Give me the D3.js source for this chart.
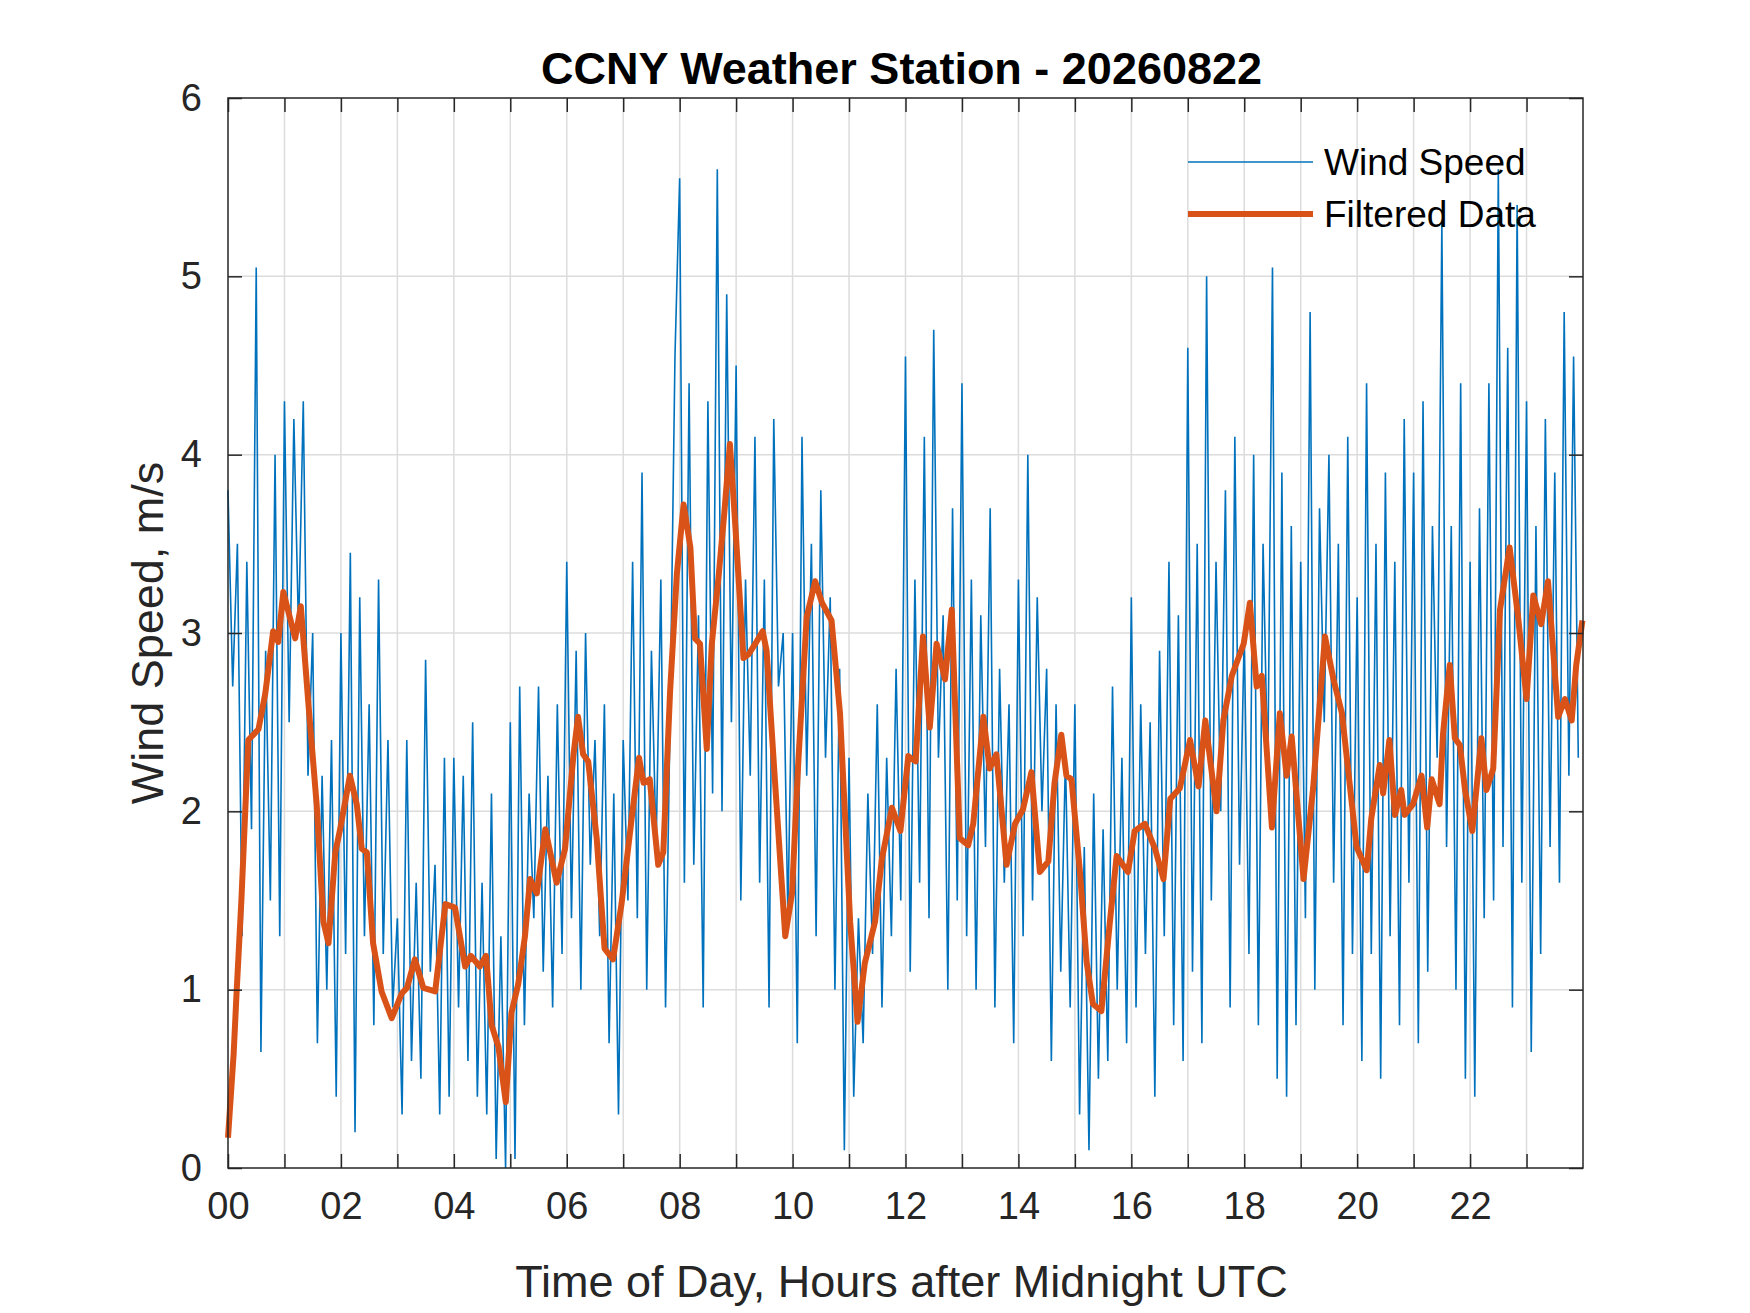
<!DOCTYPE html>
<html>
<head>
<meta charset="utf-8">
<script src="https://cdn.jsdelivr.net/npm/d3@7"></script>
<style>
  body { margin: 0; background: #fff; }
  text { font-family: "Liberation Sans", Arial, sans-serif; }
</style>
</head>
<body>
<div id="vis"></div>
<script>
// wind speed, one sample every 5 minutes (m/s)
const windSpeed = [
  3.8,2.7,3.5,1.3,3.4,1.9,5.05,0.65,2.9,1.5,4.0,1.3,
  4.3,2.5,4.2,3.0,4.3,2.2,3.0,0.7,2.2,1.0,2.4,0.4,
  3.0,1.2,3.45,0.2,3.2,1.3,2.6,0.8,3.3,1.2,2.4,0.9,
  1.4,0.3,2.4,0.6,1.6,0.5,2.85,1.1,1.7,0.3,2.3,0.4,
  2.3,0.9,2.2,0.6,2.5,0.4,1.6,0.3,2.1,0.05,1.3,0.0,
  2.5,0.05,2.7,0.8,2.1,1.4,2.7,1.1,2.2,0.9,2.6,1.2,
  3.4,1.4,2.9,1.0,3.0,1.7,2.4,1.3,2.6,0.7,2.1,0.3,
  2.4,1.5,3.4,1.4,3.9,1.0,2.9,1.8,3.3,0.9,2.6,4.55,
  5.55,1.6,4.4,1.7,3.1,0.9,4.3,2.1,5.6,2.0,4.9,2.5,
  4.5,1.5,3.3,2.2,4.1,1.6,3.3,0.9,4.2,2.7,3.0,1.4,
  3.0,0.7,4.1,2.2,3.5,1.3,3.8,2.3,3.2,1.0,2.8,0.1,
  2.3,0.4,1.4,0.7,2.1,1.2,2.6,0.9,2.3,1.3,2.8,1.5,
  4.55,1.1,3.3,1.6,4.1,1.4,4.7,2.3,3.1,1.0,3.7,1.5,
  4.4,1.3,3.3,1.0,3.1,1.8,3.7,0.9,2.8,1.6,2.6,0.7,
  3.3,1.3,4.0,1.5,3.2,2.0,2.8,0.6,2.6,1.1,2.3,0.9,
  2.6,0.3,1.8,0.1,2.1,0.5,1.9,0.6,2.7,1.0,2.3,0.7,
  3.2,0.9,2.6,1.2,2.5,0.4,2.9,1.3,3.4,0.8,3.1,0.6,
  4.6,1.1,3.5,0.7,5.0,1.5,3.4,2.0,3.8,0.9,4.1,1.7,
  3.0,1.2,4.0,0.8,3.5,2.2,5.05,0.5,3.9,0.4,3.6,0.8,
  3.4,1.4,4.8,1.0,3.7,2.5,4.0,1.6,3.5,0.8,4.1,1.2,
  3.2,0.6,4.4,1.2,3.5,0.5,3.9,1.3,3.4,0.8,4.2,1.6,
  3.9,0.7,4.3,1.1,3.6,2.3,5.3,1.8,3.6,1.0,4.4,0.5,
  3.4,0.4,3.7,1.4,4.4,1.5,5.6,1.8,4.6,0.9,5.4,1.6,
  4.3,0.65,3.6,1.2,4.2,1.8,3.9,1.6,4.8,2.2,4.55,2.3
];

// filtered data, hours after midnight and value (m/s)
const filtHours = [
  0,0.1,0.15,0.24,0.36,0.54,0.66,0.8,0.89,0.98,1.19,1.29,1.42,1.57,1.69,1.78,1.9,1.98,2.16,2.28,2.37,2.46,2.57,2.72,2.9,3.08,3.17,3.31,3.46,3.67,3.85,4.02,
  4.2,4.3,4.46,4.57,4.67,4.79,4.92,5.02,5.14,5.26,5.35,5.47,5.62,5.82,5.97,6.12,6.2,6.29,6.38,6.53,6.67,6.82,6.97,7.15,7.28,7.36,7.47,7.62,7.71,7.83,7.95,8.07,
  8.19,8.27,8.36,8.48,8.57,8.69,8.79,8.89,8.98,9.13,9.22,9.34,9.47,9.54,9.69,9.87,9.99,10.1,10.25,10.4,10.52,10.69,10.84,11.02,11.15,11.28,11.46,11.58,11.76,11.91,
  12.05,12.18,12.31,12.43,12.55,12.7,12.82,12.96,13.11,13.2,13.38,13.49,13.61,13.79,13.94,14.08,14.23,14.38,14.53,14.64,14.76,14.85,14.94,15.09,15.21,15.32,15.47,15.62,15.74,15.94,
  16.06,16.24,16.42,16.57,16.69,16.86,17.04,17.19,17.31,17.51,17.63,17.78,17.99,18.1,18.22,18.31,18.49,18.63,18.75,18.84,19.05,19.22,19.43,19.58,19.73,19.99,
  20.17,20.25,20.4,20.46,20.57,20.67,20.78,20.84,20.99,21.14,21.24,21.32,21.46,21.52,21.64,21.73,21.82,21.91,22.04,22.2,22.29,22.41,22.53,22.7,22.85,23.0,23.12,23.26,23.38,23.56,23.68,23.8,23.88,23.99
];
const filtValues = [
  0.17,0.64,0.97,1.52,2.4,2.46,2.66,3.01,2.95,3.23,2.97,3.15,2.62,2.04,1.38,1.26,1.77,1.89,2.2,2.04,1.79,1.77,1.26,0.99,0.84,0.98,1.01,1.17,1.01,0.99,1.48,1.46,
  1.13,1.19,1.13,1.19,0.8,0.68,0.37,0.87,1.03,1.3,1.62,1.54,1.9,1.6,1.79,2.32,2.53,2.32,2.28,1.85,1.23,1.17,1.48,1.96,2.3,2.16,2.18,1.7,1.77,2.67,3.33,3.72,
  3.48,2.97,2.94,2.35,2.94,3.32,3.67,4.06,3.63,2.86,2.88,2.94,3.01,2.9,2.16,1.3,1.54,2.27,3.09,3.29,3.17,3.07,2.55,1.38,0.82,1.15,1.38,1.73,2.02,1.89,
  2.31,2.28,2.98,2.47,2.94,2.74,3.13,1.85,1.81,1.93,2.53,2.24,2.32,1.7,1.93,2.01,2.22,1.66,1.72,2.16,2.43,2.2,2.18,1.66,1.15,0.92,0.88,1.38,1.75,1.66,
  1.89,1.93,1.79,1.62,2.07,2.13,2.4,2.14,2.51,2.0,2.51,2.76,2.94,3.17,2.7,2.76,1.91,2.55,2.2,2.42,1.62,2.13,2.98,2.74,2.55,1.8,
  1.67,1.96,2.26,2.1,2.4,1.98,2.12,1.98,2.04,2.2,1.91,2.18,2.04,2.43,2.82,2.41,2.37,2.12,1.89,2.41,2.12,2.24,3.13,3.48,3.09,2.63,3.21,3.05,3.29,2.53,2.63,2.51,2.82,3.07
];

const yTicks = [0, 1, 2, 3, 4, 5, 6];
const xTicks = [0, 2, 4, 6, 8, 10, 12, 14, 16, 18, 20, 22];
const seriesNames = ["Wind Speed", "Filtered Data"];

const W = 1750, H = 1313;
const MARGINS = { left: 228, right: 167, top: 98, bottom: 145 };
const VIS_W = W - MARGINS.left - MARGINS.right;
const VIS_H = H - MARGINS.top - MARGINS.bottom;

const svg = d3.select("#vis").append("svg")
  .attr("width", W).attr("height", H);

const X = d3.scaleLinear().domain([0, 24]).range([MARGINS.left, MARGINS.left + VIS_W]);
const Y = d3.scaleLinear().domain([0, 6]).range([MARGINS.top + VIS_H, MARGINS.top]);

// grid
const grid = svg.append("g").attr("stroke", "#dcdcdc").attr("stroke-width", 1.5);
grid.selectAll(".gx").data(d3.range(1, 24)).enter().append("line")
  .attr("x1", d => X(d)).attr("x2", d => X(d))
  .attr("y1", Y(0)).attr("y2", Y(6));
grid.selectAll(".gy").data(yTicks.slice(1, -1)).enter().append("line")
  .attr("x1", X(0)).attr("x2", X(24))
  .attr("y1", d => Y(d)).attr("y2", d => Y(d));

// lines
svg.append("path")
  .datum(windSpeed)
  .attr("fill", "none").attr("stroke", "#0072BD").attr("stroke-width", 1.6)
  .attr("d", d3.line().x((d, i) => X(i / 12)).y(d => Y(d)));

svg.append("path")
  .datum(filtHours.map((h, i) => [h, filtValues[i]]))
  .attr("fill", "none").attr("stroke", "#D95319").attr("stroke-width", 6)
  .attr("stroke-linejoin", "round")
  .attr("d", d3.line().x(d => X(d[0])).y(d => Y(d[1])));

// axes
const tickLen = 14;
const fmt = d => String(d).padStart(2, "0");
svg.append("g").attr("transform", "translate(0," + Y(0) + ")")
  .call(d3.axisBottom(X).tickValues(d3.range(0, 24)).tickSize(-tickLen).tickPadding(24)
    .tickFormat(d => xTicks.includes(d) ? fmt(d) : ""))
  .call(g => g.select(".domain").remove());
svg.append("g").attr("transform", "translate(0," + Y(6) + ")")
  .call(d3.axisTop(X).tickValues(d3.range(0, 24)).tickSize(-tickLen).tickFormat(""))
  .call(g => g.select(".domain").remove());
svg.append("g").attr("transform", "translate(" + X(0) + ",0)")
  .call(d3.axisLeft(Y).tickValues(yTicks).tickSize(-tickLen).tickPadding(26).tickFormat(d3.format("d")))
  .call(g => g.select(".domain").remove());
svg.append("g").attr("transform", "translate(" + X(24) + ",0)")
  .call(d3.axisRight(Y).tickValues(yTicks).tickSize(-tickLen).tickFormat(""))
  .call(g => g.select(".domain").remove());

svg.selectAll(".tick line").attr("stroke", "#262626").attr("stroke-width", 1.5);
svg.selectAll(".tick text").attr("fill", "#262626").attr("font-size", 38)
  .attr("font-family", "Liberation Sans, Arial, sans-serif");

svg.append("rect")
  .attr("x", X(0)).attr("y", Y(6)).attr("width", VIS_W).attr("height", VIS_H)
  .attr("fill", "none").attr("stroke", "#262626").attr("stroke-width", 1.5);

// labels
svg.append("text").attr("x", X(12) - 4).attr("y", 84).attr("text-anchor", "middle")
  .attr("font-size", 45).attr("font-weight", "bold").attr("fill", "#000")
  .text("CCNY Weather Station - 20260822");
svg.append("text").attr("x", X(12) - 4).attr("y", 1297).attr("text-anchor", "middle")
  .attr("font-size", 45).attr("fill", "#262626")
  .text("Time of Day, Hours after Midnight UTC");
svg.append("text").attr("transform", "translate(163," + Y(3) + ") rotate(-90)")
  .attr("text-anchor", "middle").attr("font-size", 45).attr("fill", "#262626")
  .text("Wind Speed, m/s");

// legend
const legend = svg.append("g");
const legendColors = ["#0072BD", "#D95319"];
const legendWidths = [1.6, 6];
seriesNames.forEach((name, i) => {
  const y = 162 + i * 52;
  legend.append("line").attr("x1", 1188).attr("x2", 1313).attr("y1", y).attr("y2", y)
    .attr("stroke", legendColors[i]).attr("stroke-width", legendWidths[i]);
  legend.append("text").attr("x", 1324).attr("y", y + 13).attr("font-size", 37)
    .attr("fill", "#000").text(name);
});
</script>
</body>
</html>
